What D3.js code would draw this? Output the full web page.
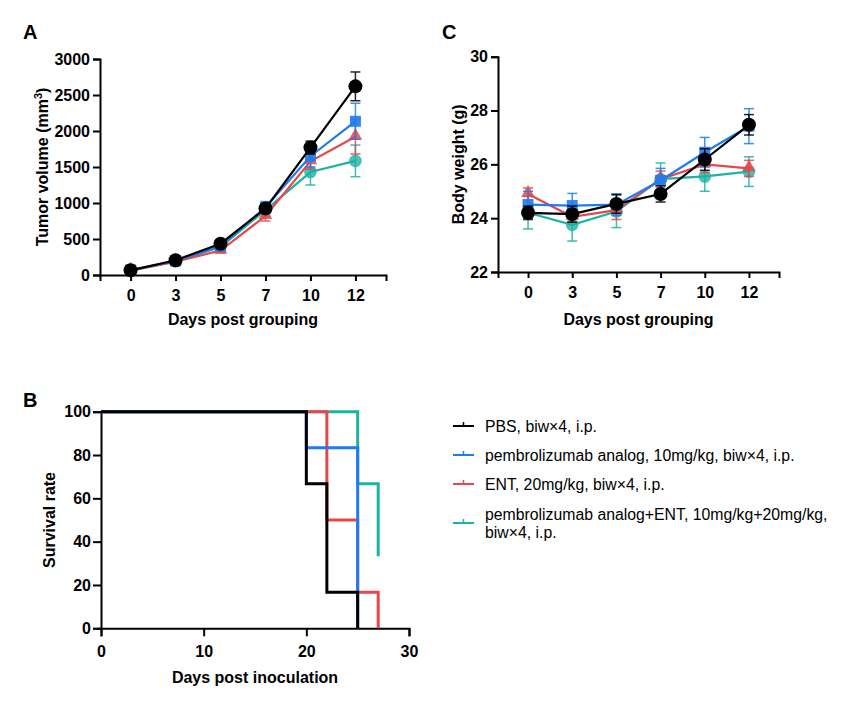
<!DOCTYPE html>
<html>
<head>
<meta charset="utf-8">
<style>
  body { margin: 0; background: #fff; }
  svg text { font-family: "Liberation Sans", Arial, sans-serif; }
  .tick text { font-size: 16px; font-weight: bold; fill: #000; }
  .axis-title { font-size: 16px; font-weight: bold; }
  .panel { font-size: 20px; font-weight: bold; }
  .legend text { font-size: 15.8px; }
</style>
</head>
<body>
<svg width="866" height="725"></svg>
<script src="https://d3js.org/d3.v7.min.js"></script>
<script>
// groups
var groups = ["PBS", "pembro", "ENT", "combo"];
var colors = { PBS: "#000000", pembro: "#1E7BF2", ENT: "#E5474B", combo: "#1CB2A5" };
var legendLabels = [
  ["PBS, biw\u00d74, i.p."],
  ["pembrolizumab analog, 10mg/kg, biw\u00d74, i.p."],
  ["ENT, 20mg/kg, biw\u00d74, i.p."],
  ["pembrolizumab analog+ENT, 10mg/kg+20mg/kg,", "biw\u00d74, i.p."]
];

// day categories for A and C
var days = ["0", "3", "5", "7", "10", "12"];

// A: tumor volume (mean, sem)
var tumorPBS    = [65, 205, 435, 925, 1770, 2620];
var tumorPBSErr = [20, 30, 40, 60, 90, 200];
var tumorPem    = [70, 195, 400, 940, 1650, 2135];
var tumorPemErr = [20, 30, 40, 80, 150, 250];
var tumorENT    = [60, 185, 340, 820, 1580, 1920];
var tumorENTErr = [20, 25, 35, 70, 110, 240];
var tumorCom    = [65, 190, 390, 900, 1430, 1585];
var tumorComErr = [20, 25, 40, 80, 180, 220];

// C: body weight (mean, sem)
var bwPBS    = [24.2, 24.15, 24.53, 24.9, 26.18, 27.47];
var bwPBSErr = [0.25, 0.3, 0.35, 0.3, 0.4, 0.38];
var bwPem    = [24.5, 24.47, 24.5, 25.4, 26.45, 27.42];
var bwPemErr = [0.5, 0.45, 0.4, 0.45, 0.55, 0.65];
var bwENT    = [24.9, 24.05, 24.3, 25.45, 26.0, 25.85];
var bwENTErr = [0.22, 0.2, 0.35, 0.3, 0.3, 0.3];
var bwCom    = [24.2, 23.75, 24.25, 25.45, 25.55, 25.73];
var bwComErr = [0.6, 0.6, 0.6, 0.6, 0.55, 0.55];

// B: Kaplan-Meier steps [day, survival %]
var survPBS = [[0, 100], [20, 66.7], [22, 16.7], [25, 0]];
var survPem = [[0, 100], [20, 83.3], [25, 0]];
var survENT = [[0, 100], [22, 50], [25, 16.7], [27, 0]];
var survCom = [[0, 100], [25, 66.7], [27, 33.3]];

var tumor = { PBS: [tumorPBS, tumorPBSErr], pembro: [tumorPem, tumorPemErr], ENT: [tumorENT, tumorENTErr], combo: [tumorCom, tumorComErr] };
var bw = { PBS: [bwPBS, bwPBSErr], pembro: [bwPem, bwPemErr], ENT: [bwENT, bwENTErr], combo: [bwCom, bwComErr] };
var surv = { PBS: survPBS, pembro: survPem, ENT: survENT, combo: survCom };

var svg = d3.select("svg");
var drawOrder = ["combo", "ENT", "pembro", "PBS"];

function styleAxis(ax) {
  ax.select(".domain").attr("stroke", "#000").attr("stroke-width", 2);
  ax.selectAll(".tick line").attr("stroke", "#000").attr("stroke-width", 2);
}

function marker(g, grp, cx, cy) {
  var c = colors[grp];
  if (grp == "pembro") {
    g.append("rect").attr("x", cx - 5.5).attr("y", cy - 5.5).attr("width", 11).attr("height", 11)
      .attr("fill", c).attr("fill-opacity", 0.9);
  } else if (grp == "ENT") {
    g.append("path").attr("d", d3.symbol(d3.symbolTriangle, 80)()).attr("transform", "translate(" + cx + "," + (cy - 1) + ")")
      .attr("fill", c).attr("fill-opacity", 0.85);
  } else if (grp == "combo") {
    g.append("circle").attr("cx", cx).attr("cy", cy).attr("r", 6.3).attr("fill", c).attr("fill-opacity", 0.8);
  } else {
    g.append("circle").attr("cx", cx).attr("cy", cy).attr("r", 7).attr("fill", c);
  }
}

function linePanel(opts) {
  var x = d3.scalePoint().domain(days).range(opts.xr).padding(0.68);
  var y = d3.scaleLinear().domain(opts.yd).range(opts.yr);

  var xa = svg.append("g").attr("transform", "translate(0," + opts.yr[0] + ")")
    .call(d3.axisBottom(x).tickSize(6).tickPadding(9));
  styleAxis(xa);
  var ya = svg.append("g").attr("transform", "translate(" + opts.xr[0] + ",0)")
    .call(d3.axisLeft(y).tickValues(opts.ticks).tickFormat(d3.format("d")).tickSize(7).tickPadding(3));
  styleAxis(ya);

  drawOrder.forEach(function (grp) {
    var vals = opts.data[grp][0], errs = opts.data[grp][1];
    var c = colors[grp];
    var g = svg.append("g");
    vals.forEach(function (v, i) {
      var cx = x(days[i]);
      var y1 = y(v + errs[i]), y0 = y(v - errs[i]);
      g.append("line").attr("x1", cx).attr("x2", cx).attr("y1", y1).attr("y2", y0)
        .attr("stroke", c).attr("stroke-width", 1.5).attr("stroke-opacity", 0.85);
      [y1, y0].forEach(function (yy) {
        g.append("line").attr("x1", cx - 5).attr("x2", cx + 5).attr("y1", yy).attr("y2", yy)
          .attr("stroke", c).attr("stroke-width", 1.5).attr("stroke-opacity", 0.85);
      });
    });
    g.append("path").datum(vals)
      .attr("d", d3.line().x(function (d, i) { return x(days[i]); }).y(function (d) { return y(d); }))
      .attr("fill", "none").attr("stroke", c).attr("stroke-width", 2.2);
    vals.forEach(function (v, i) { marker(g, grp, x(days[i]), y(v)); });
  });

  svg.append("text").attr("class", "axis-title").attr("text-anchor", "middle")
    .attr("x", (opts.xr[0] + opts.xr[1]) / 2).attr("y", 325).text("Days post grouping");
  var yt = svg.append("text").attr("class", "axis-title").attr("text-anchor", "middle")
    .attr("transform", "translate(" + opts.ytx + "," + ((opts.yr[0] + opts.yr[1]) / 2) + ") rotate(-90)");
  opts.ytitle(yt);
}

// Panel A
linePanel({
  xr: [100, 386], yr: [275, 59], yd: [0, 3000], ticks: d3.range(0, 3001, 500),
  data: tumor, ytx: 48,
  ytitle: function (t) {
    t.append("tspan").text("Tumor volume (mm");
    t.append("tspan").attr("dy", -6).attr("font-size", 11).text("3");
    t.append("tspan").attr("dy", 6).text(")");
  }
});

// Panel C
linePanel({
  xr: [498, 779], yr: [272, 56.7], yd: [22, 30], ticks: [22, 24, 26, 28, 30],
  data: bw, ytx: 464,
  ytitle: function (t) { t.text("Body weight (g)"); }
});

// Panel B
var xs = d3.scaleLinear().domain([0, 30]).range([101, 409]);
var ys = d3.scaleLinear().domain([0, 100]).range([628.3, 411.7]);
var xb = svg.append("g").attr("transform", "translate(0,628.3)")
  .call(d3.axisBottom(xs).tickValues([0, 10, 20, 30]).tickSize(8).tickPadding(9));
styleAxis(xb);
var yb = svg.append("g").attr("transform", "translate(101,0)")
  .call(d3.axisLeft(ys).tickValues(d3.range(0, 101, 20)).tickSize(8).tickPadding(2));
styleAxis(yb);

drawOrder.forEach(function (grp) {
  svg.append("path").datum(surv[grp])
    .attr("d", d3.line().curve(d3.curveStepAfter).x(function (d) { return xs(d[0]); }).y(function (d) { return ys(d[1]); }))
    .attr("fill", "none").attr("stroke", colors[grp]).attr("stroke-width", 3);
});

svg.append("text").attr("class", "axis-title").attr("text-anchor", "middle")
  .attr("x", 255).attr("y", 683).text("Days post inoculation");
svg.append("text").attr("class", "axis-title").attr("text-anchor", "middle")
  .attr("transform", "translate(55,520) rotate(-90)").text("Survival rate");

// panel letters
svg.append("text").attr("class", "panel").attr("x", 23).attr("y", 39).text("A");
svg.append("text").attr("class", "panel").attr("x", 442).attr("y", 39).text("C");
svg.append("text").attr("class", "panel").attr("x", 23).attr("y", 407).text("B");

// legend
var legY = [426, 455, 484, 514];
var leg = svg.append("g").attr("class", "legend");
groups.forEach(function (grp, i) {
  var lines = legendLabels[i];
  var sy = lines.length > 1 ? legY[i] + 9 : legY[i];
  leg.append("line").attr("x1", 453).attr("x2", 474).attr("y1", sy).attr("y2", sy)
    .attr("stroke", colors[grp]).attr("stroke-width", 2);
  leg.append("line").attr("x1", 463.5).attr("x2", 463.5).attr("y1", sy - 4).attr("y2", sy)
    .attr("stroke", colors[grp]).attr("stroke-width", 1.5);
  lines.forEach(function (l, j) {
    leg.append("text").attr("x", 485).attr("y", legY[i] + 5.5 + j * 18).text(l);
  });
});
</script>
</body>
</html>
